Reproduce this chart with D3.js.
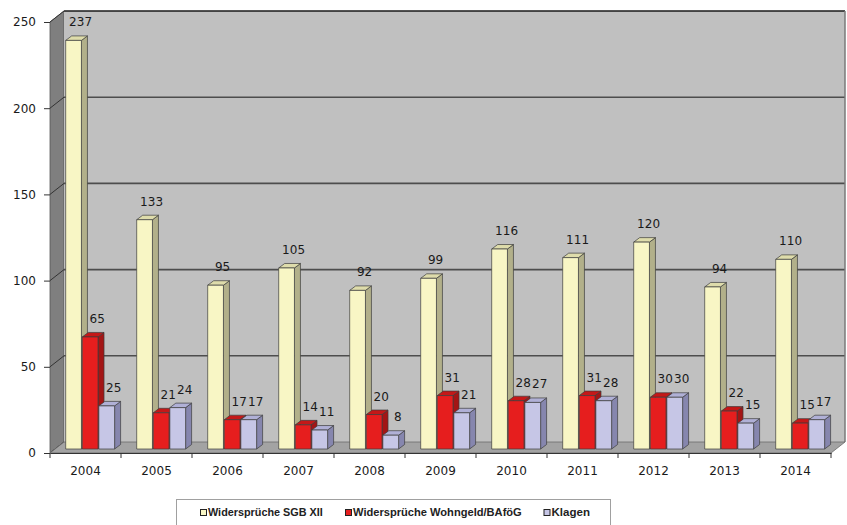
<!DOCTYPE html>
<html>
<head>
<meta charset="utf-8">
<script src="https://cdn.jsdelivr.net/npm/d3@7/dist/d3.min.js"></script>
<style>
  html, body { margin: 0; padding: 0; background: #fff; }
  svg { display: block; }
  .num { font-family: "DejaVu Sans", sans-serif; font-size: 12px; fill: #1a1a1a; }
  .leg { font-family: "Liberation Sans", Arial, sans-serif; font-size: 11.5px; font-weight: bold; fill: #222; }
</style>
</head>
<body>
<svg id="chart" width="847" height="525"></svg>
<script>
// Jahre und Werte
const years = ["2004","2005","2006","2007","2008","2009","2010","2011","2012","2013","2014"];
const seriesNames = ["Widersprüche SGB XII", "Widersprüche Wohngeld/BAföG", "Klagen"];
const sgbXII   = [237, 133, 95, 105, 92, 99, 116, 111, 120, 94, 110];
const wohngeld = [65, 21, 17, 14, 20, 31, 28, 31, 30, 22, 15];
const klagen   = [25, 24, 17, 11, 8, 21, 27, 28, 30, 15, 17];
const yTicks   = [0, 50, 100, 150, 200, 250];

const seriesValues = [sgbXII, wohngeld, klagen];
const palette = [
  { front: "#f8f6c5", side: "#b2b08a", top: "#dedcab" },
  { front: "#e61e1e", side: "#a31515", top: "#c41818" },
  { front: "#c6c6e6", side: "#8686ae", top: "#b0b0d6" }
];

const svg = d3.select("#chart");

// front plane of the 3D box
const x = d3.scaleBand().domain(years).range([50, 831]).padding(0);
const y = d3.scaleLinear().domain([0, 250]).range([453, 22]);
const inner = d3.scaleBand().domain(seriesNames).range([10.7, 59.6]).paddingInner(0.05);

// depth offsets: back wall, bar baseline, bar thickness
const wall = { dx: 14, dy: -11 };
const base = { dx: 5, dy: -4 };
const thick = { dx: 6, dy: -4.5 };

const x0 = x.range()[0], x1 = x.range()[1];
const pts = a => a.map(p => p.join(",")).join(" ");

// left side wall
svg.append("polygon")
  .attr("points", pts([[x0, y(250)], [x0 + wall.dx, y(250) + wall.dy], [x0 + wall.dx, y(0) + wall.dy], [x0, y(0)]]))
  .attr("fill", "#7f7f7f").attr("stroke", "#555").attr("stroke-width", 0.8);

// back wall
svg.append("rect")
  .attr("x", x0 + wall.dx).attr("y", y(250) + wall.dy)
  .attr("width", x1 - x0).attr("height", y(0) - y(250))
  .attr("fill", "#c0c0c0");

// gridlines on back wall and their diagonals on the side wall
const grid = svg.append("g");
yTicks.filter(v => v > 0 && v < 250).forEach(v => {
  grid.append("line")
    .attr("x1", x0 + wall.dx).attr("x2", x1 + wall.dx)
    .attr("y1", y(v) + wall.dy).attr("y2", y(v) + wall.dy)
    .attr("stroke", "#4d4d4d").attr("stroke-width", 1.6);
});
yTicks.forEach(v => {
  grid.append("line")
    .attr("x1", x0).attr("y1", y(v))
    .attr("x2", x0 + wall.dx).attr("y2", y(v) + wall.dy)
    .attr("stroke", "#333").attr("stroke-width", 1);
});
// top and right edges of the back wall
svg.append("line")
  .attr("x1", x0 + wall.dx).attr("x2", x1 + wall.dx)
  .attr("y1", y(250) + wall.dy).attr("y2", y(250) + wall.dy)
  .attr("stroke", "#1a1a1a").attr("stroke-width", 1.6);
svg.append("line")
  .attr("x1", x1 + wall.dx).attr("x2", x1 + wall.dx)
  .attr("y1", y(250) + wall.dy).attr("y2", y(0) + wall.dy)
  .attr("stroke", "#7a7a7a").attr("stroke-width", 1.5);

// floor
svg.append("polygon")
  .attr("points", pts([[x0, y(0)], [x0 + wall.dx, y(0) + wall.dy], [x1 + wall.dx, y(0) + wall.dy], [x1, y(0)]]))
  .attr("fill", "#a3a3a3").attr("stroke", "#6a6a6a").attr("stroke-width", 0.8);

// bars
const bars = svg.append("g");
years.forEach((yr, i) => {
  seriesNames.forEach((name, j) => {
    const v = seriesValues[j][i];
    const c = palette[j];
    const bx = x(yr) + inner(name) + base.dx;
    const w = inner.bandwidth();
    const yt = y(v) + base.dy;
    const yb = y(0) + base.dy;
    const g = bars.append("g").attr("stroke", "#3c3c3c").attr("stroke-width", 0.7).attr("stroke-linejoin", "round");
    g.append("polygon")
      .attr("points", pts([[bx + w, yt], [bx + w + thick.dx, yt + thick.dy], [bx + w + thick.dx, yb + thick.dy], [bx + w, yb]]))
      .attr("fill", c.side);
    g.append("polygon")
      .attr("points", pts([[bx, yt], [bx + thick.dx, yt + thick.dy], [bx + w + thick.dx, yt + thick.dy], [bx + w, yt]]))
      .attr("fill", c.top);
    g.append("rect")
      .attr("x", bx).attr("y", yt).attr("width", w).attr("height", yb - yt)
      .attr("fill", c.front);
  });
});

// value labels
const labels = svg.append("g");
years.forEach((yr, i) => {
  seriesNames.forEach((name, j) => {
    const v = seriesValues[j][i];
    labels.append("text").attr("class", "num")
      .attr("x", x(yr) + inner(name) + base.dx + inner.bandwidth() / 2 + 7)
      .attr("y", y(v) + base.dy - 14)
      .attr("text-anchor", "middle")
      .text(v);
  });
});

// y axis on the front plane
const yAxis = svg.append("g").attr("transform", `translate(${x0},0)`)
  .call(d3.axisLeft(y).tickValues(yTicks).tickSize(6).tickPadding(8));
yAxis.select(".domain").remove();
yAxis.selectAll("text").attr("class", "num").attr("font-family", null).attr("font-size", null);
yAxis.selectAll("line").attr("stroke", "#333");

// x axis: category labels centred in each band, ticks between bands
const xAxis = svg.append("g").attr("transform", `translate(0,${y(0)})`)
  .call(d3.axisBottom(x).tickSize(0).tickPadding(13));
xAxis.select(".domain").attr("stroke", "#333").attr("stroke-width", 1.2);
xAxis.selectAll("text").attr("class", "num").attr("font-family", null).attr("font-size", null);
xAxis.selectAll(".sep").data(years.concat(["end"])).enter().append("line")
  .attr("class", "sep")
  .attr("x1", (d, i) => x0 + i * x.step()).attr("x2", (d, i) => x0 + i * x.step())
  .attr("y1", 0).attr("y2", 5)
  .attr("stroke", "#333");

// legend (condensed text: squeeze each entry horizontally to its slot width)
const legend = svg.append("g");
legend.append("rect")
  .attr("x", 176.5).attr("y", 499.5).attr("width", 434).attr("height", 30)
  .attr("fill", "#fff").attr("stroke", "#a0a0a0");
const legendX = [200, 345, 543.5];
const legendW = [115, 169, 38.5];
seriesNames.forEach((name, j) => {
  legend.append("rect")
    .attr("x", legendX[j] + 0.5).attr("y", 509.5).attr("width", 6).attr("height", 6)
    .attr("fill", palette[j].front).attr("stroke", "#222").attr("stroke-width", 1);
  const t = legend.append("text").attr("class", "leg").attr("x", 0).attr("y", 0).text(name);
  const natural = t.node().getComputedTextLength();
  t.attr("transform", `translate(${legendX[j] + 8},516) scale(${legendW[j] / natural},1)`);
});
</script>
</body>
</html>
